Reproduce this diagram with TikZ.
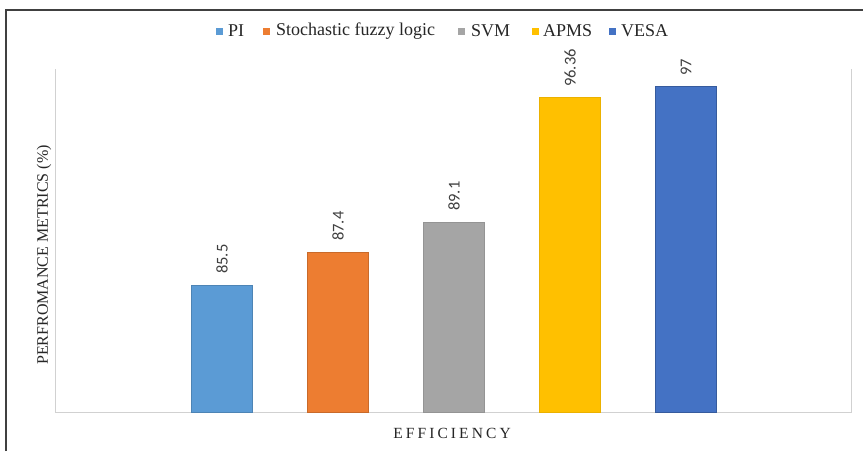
\documentclass[tikz,border=0pt]{standalone}
\usepackage{fontspec}
\setmainfont{Liberation Serif}
\newfontfamily\numfont{Carlito}
\begin{document}
\begin{tikzpicture}[x=1pt,y=-1pt,
  barbox/.style={line width=0.6pt},
  vallabel/.style={rotate=90,anchor=west,font=\numfont\fontsize{16.5}{16.5}\selectfont,text=black!75,inner sep=0pt},
  legsq/.style={minimum size=7pt,inner sep=0pt},
  legtext/.style={anchor=west,font=\fontsize{18}{18}\selectfont,inner sep=0pt,text=black!85}]
\useasboundingbox (0,0) rectangle (863,451);
\fill[white] (0,0) rectangle (863,451);
% frame
\draw[black!75,line width=1.6pt] (6,451) -- (6,10) -- (864,10);
% plot area
\draw[black!18,line width=1pt] (55,69) -- (55,412) -- (851,412) -- (851,69);
% bars
\definecolor{cPI}{HTML}{5B9BD5}
\definecolor{cSF}{HTML}{ED7D31}
\definecolor{cSVM}{HTML}{A5A5A5}
\definecolor{cAP}{HTML}{FFC000}
\definecolor{cVE}{HTML}{4472C4}
\filldraw[barbox,fill=cPI,draw=cPI!85!black] (191,412) rectangle (252,285);
\filldraw[barbox,fill=cSF,draw=cSF!85!black] (307,412) rectangle (368,252);
\filldraw[barbox,fill=cSVM,draw=cSVM!90!black] (423,412) rectangle (484,222);
\filldraw[barbox,fill=cAP,draw=cAP!92!black] (539,412) rectangle (600,97);
\filldraw[barbox,fill=cVE,draw=cVE!80!black] (655,412) rectangle (716,86);
% value labels
\node[vallabel] (vPI) at (222,274) {85.5};
\node[vallabel] (vSF) at (338,241) {87.4};
\node[vallabel] (vSVM) at (454,211) {89.1};
\node[vallabel] (vAP) at (570,87) {96.36};
\node[vallabel] (vVE) at (686,76) {97};
% legend
\node[legsq,fill=cPI] (sqPI) at (219,31) {};
\node[legtext] (lPI) at (228,31) {PI};
\node[legsq,fill=cSF] (sqSF) at (266,31) {};
\node[legtext] (lSF) at (276,31) {Stochastic fuzzy logic};
\node[legsq,fill=cSVM] (sqSVM) at (461,31) {};
\node[legtext] (lSVM) at (471,31) {SVM};
\node[legsq,fill=cAP] (sqAP) at (535,31) {};
\node[legtext] (lAP) at (543,31) {APMS};
\node[legsq,fill=cVE] (sqVE) at (612,31) {};
\node[legtext] (lVE) at (621,31) {VESA};
% axis titles
\node[font=\fontsize{15.5}{15.5}\selectfont,text=black!85] (xt) at (452,433) {\addfontfeature{LetterSpace=20}EFFICIENCY};
\node[rotate=90,font=\fontsize{16}{16}\selectfont,text=black!85] (yt) at (44,255) {PERFROMANCE METRICS (\%)};
\end{tikzpicture}
\end{document}
